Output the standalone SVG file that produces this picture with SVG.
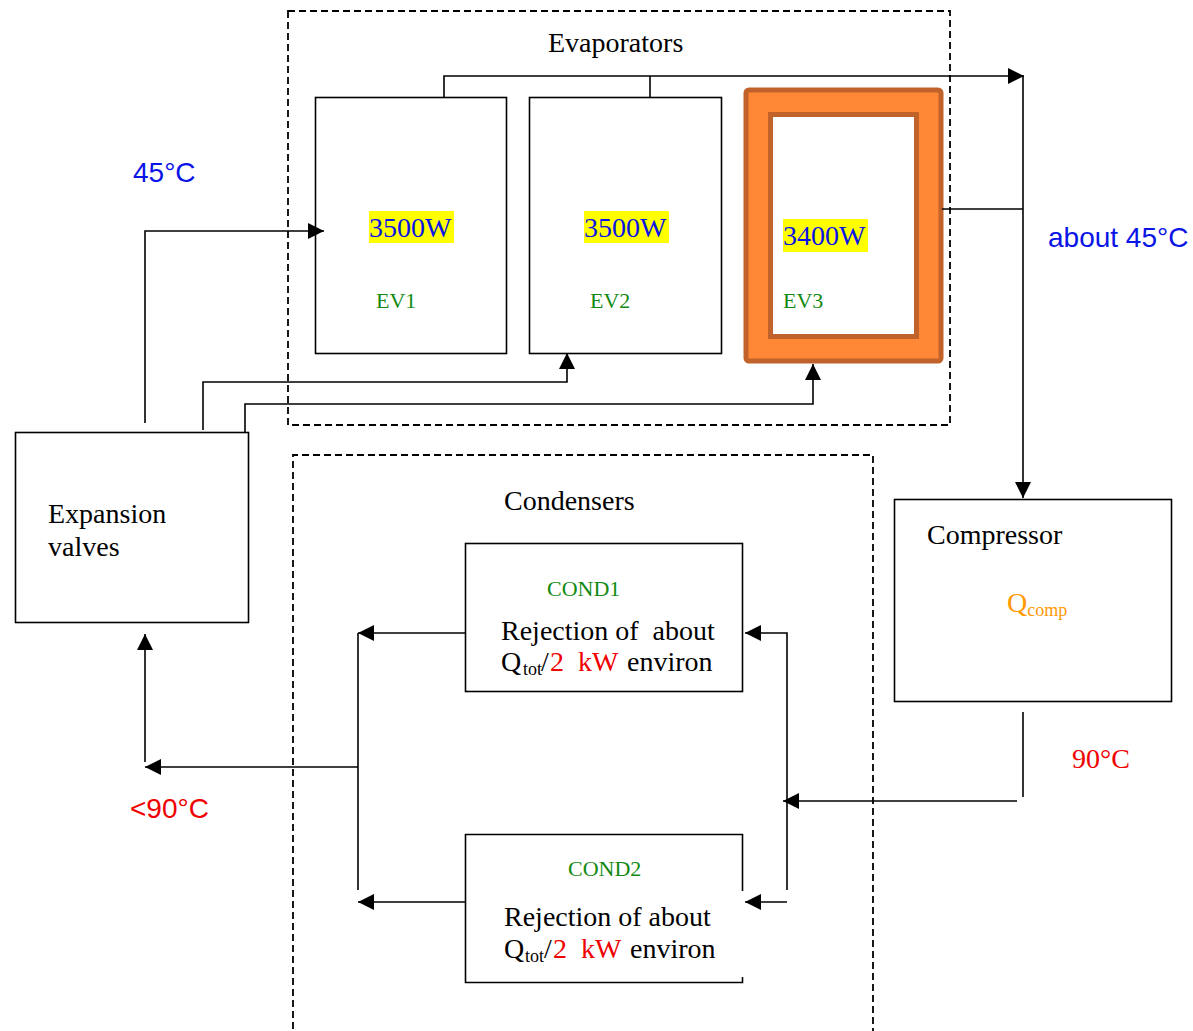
<svg xmlns="http://www.w3.org/2000/svg" width="1193" height="1031" viewBox="0 0 1193 1031">
<defs>
<marker id="arr" viewBox="0 0 16 16" refX="16" refY="8" markerWidth="16" markerHeight="16" orient="auto" markerUnits="userSpaceOnUse">
<path d="M0,0 L16,8 L0,16 z" fill="#000"/>
</marker>
<style>
.box{fill:#fff;stroke:#000;stroke-width:1.6}
.dash{fill:none;stroke:#000;stroke-width:1.8;stroke-dasharray:7 4}
.ln{fill:none;stroke:#000;stroke-width:1.6}
.ar{fill:none;stroke:#000;stroke-width:1.6;marker-end:url(#arr)}
.serif{font-family:"Liberation Serif","Times New Roman",serif;font-size:28px;fill:#000;white-space:pre}
.sans{font-family:"Liberation Sans",Arial,sans-serif;font-size:28px}
.blue{fill:#0A14E6}
.red{fill:#F00000}
.green{fill:#128A12;font-size:22px}
.orange{fill:#FF9900}
.sub{font-size:18px}
.hl{fill:#FFFF00}
</style>
</defs>

<g id="evaporators-group">
<path class="dash" d="M288,11 L950,11 L950,425 L288,425 Z"/>
<text class="serif" x="548" y="52">Evaporators</text>
</g>

<g id="condensers-group">
<path class="dash" d="M293,1040 L293,455 L873,455 L873,1040"/>
<text class="serif" x="504" y="510">Condensers</text>
</g>

<g id="EV1">
<rect class="box" x="315.5" y="97.5" width="191" height="256"/>
<rect class="hl" x="369" y="211" width="85" height="32"/>
<text class="serif blue" x="369" y="237">3500W</text>
<text class="serif green" x="376" y="308">EV1</text>
</g>

<g id="EV2">
<rect class="box" x="529.5" y="97.5" width="192" height="256"/>
<rect class="hl" x="584" y="211" width="85" height="32"/>
<text class="serif blue" x="584" y="237">3500W</text>
<text class="serif green" x="590" y="308">EV2</text>
</g>

<g id="EV3">
<rect x="746" y="90" width="195" height="271" rx="3" fill="#FF8837" stroke="#C0622A" stroke-width="5"/>
<rect x="770.5" y="114.5" width="146" height="222" fill="#fff" stroke="#C0622A" stroke-width="5"/>
<rect class="hl" x="783" y="219" width="85" height="33"/>
<text class="serif blue" x="783" y="245">3400W</text>
<text class="serif green" x="783" y="308">EV3</text>
</g>

<g id="expansion-valves">
<rect class="box" x="15.5" y="432.5" width="233" height="190"/>
<text class="serif" x="48" y="523">Expansion</text>
<text class="serif" x="48" y="556">valves</text>
</g>

<g id="compressor">
<rect class="box" x="894.5" y="499.5" width="277" height="202"/>
<text class="serif" x="927" y="544">Compressor</text>
<text class="serif orange" x="1007" y="612">Q<tspan class="sub" dy="4">comp</tspan></text>
</g>

<g id="COND1">
<rect class="box" x="465.5" y="543.5" width="277" height="148"/>
<text class="serif green" x="547" y="596">COND1</text>
<text class="serif" x="501" y="640">Rejection of  about</text>
<text class="serif" x="501" y="671">Q<tspan class="sub" x="523" dy="4">tot</tspan><tspan x="541" dy="-4">/</tspan><tspan class="red" x="550">2  kW</tspan><tspan x="620"> environ</tspan></text>
</g>

<g id="COND2">
<path class="ln" d="M742.5,891 L742.5,834.5 L465.5,834.5 L465.5,982.5 L742.5,982.5 L742.5,977"/>
<text class="serif green" x="568" y="876">COND2</text>
<text class="serif" x="504" y="926">Rejection of about</text>
<text class="serif" x="504" y="958">Q<tspan class="sub" x="525" dy="4">tot</tspan><tspan x="544" dy="-4">/</tspan><tspan class="red" x="553">2  kW</tspan><tspan x="623"> environ</tspan></text>
</g>

<g id="labels">
<text class="sans blue" x="133" y="182">45°C</text>
<text class="sans blue" x="1048" y="247">about 45°C</text>
<text class="sans red" x="130" y="818">&lt;90°C</text>
<text class="serif red" x="1072" y="768">90°C</text>
</g>

<g id="connectors">
<path class="ar" d="M444,97 L444,76 L1024,76"/>
<path class="ln" d="M650,76 L650,97"/>
<path class="ln" d="M942,209 L1023,209"/>
<path class="ar" d="M1023,76 L1023,498"/>
<path class="ar" d="M145,423 L145,231 L324,231"/>
<path class="ar" d="M203,430 L203,382 L567,382 L567,353"/>
<path class="ar" d="M245,432 L245,404 L813,404 L813,364"/>
<path class="ln" d="M1023,712 L1023,797"/>
<path class="ar" d="M1017,801 L783,801"/>
<path class="ar" d="M787,890 L787,633 L745,633"/>
<path class="ar" d="M787,902 L745,902"/>
<path class="ar" d="M465,633 L358,633"/>
<path class="ln" d="M358,633 L358,890"/>
<path class="ar" d="M358,767 L145,767"/>
<path class="ar" d="M465,902 L358,902"/>
<path class="ar" d="M145,762 L145,634"/>
</g>
</svg>
